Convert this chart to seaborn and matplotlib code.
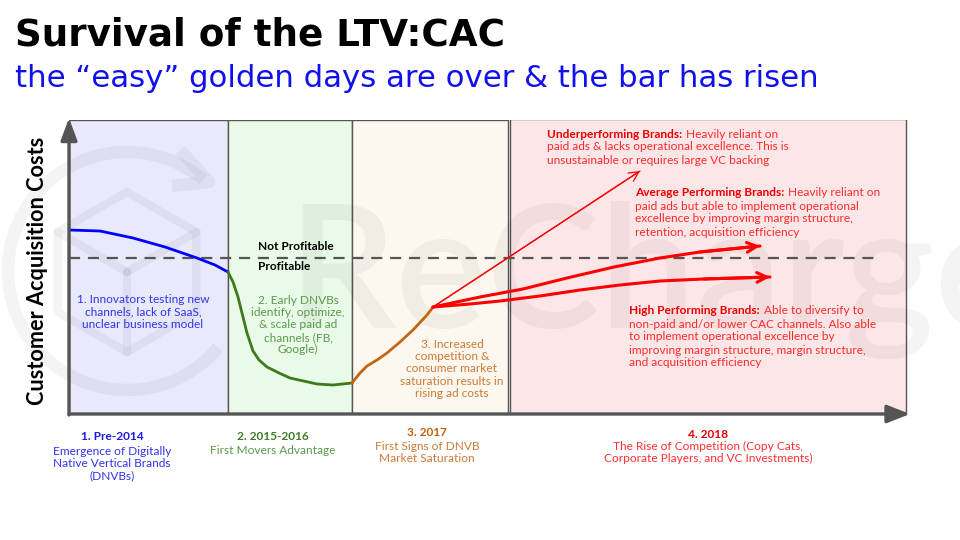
import matplotlib
matplotlib.use("Agg")
import matplotlib.pyplot as plt
import matplotlib.transforms as mtransforms
from matplotlib.patches import Arc, Polygon
import numpy as np
import seaborn as sns

# phases (x = time, y = customer acquisition cost, arbitrary units)
phase_starts = [0, 159, 283, 441]
phase_widths = [159, 124, 156, 396]
phase_heights = [294, 294, 294, 295]
phase_fills = ["#e8eafc", "#e9fbe8", "#fdf8ef", "#fde6e8"]

break_even = 156

blue_x = [0, 31, 64, 96, 128, 146, 159]
blue_y = [184, 183, 176, 167, 156, 149, 142]
green_x = [159, 164, 169, 173, 178, 184, 190, 198, 210, 221, 248, 264, 283]
green_y = [142, 132, 117, 101, 81, 63, 54, 47, 41, 36, 30, 29, 31]
orange_x = [283, 291, 298, 308, 318, 331, 344, 358, 364]
orange_y = [31, 41, 48, 54, 61, 72, 84, 99, 107]
under_x = [364, 571]
under_y = [107, 243]
avg_x = [364, 411, 454, 498, 545, 591, 631, 691]
avg_y = [107, 117, 125, 136, 147, 156, 162, 168]
high_x = [364, 401, 431, 471, 511, 551, 591, 635, 701]
high_y = [107, 110, 113, 118, 124, 129, 133, 135, 137]

phase_notes = [
    "1. Innovators testing new\nchannels, lack of SaaS,\nunclear business model",
    "2. Early DNVBs\nidentify, optimize,\n& scale paid ad\nchannels (FB,\nGoogle)",
    "3. Increased\ncompetition &\nconsumer market\nsaturation results in\nrising ad costs",
]
phase_titles = ["1. Pre-2014", "2. 2015-2016", "3. 2017", "4. 2018"]
phase_subs = [
    "Emergence of Digitally\nNative Vertical Brands\n(DNVBs)",
    "First Movers Advantage",
    "First Signs of DNVB\nMarket Saturation",
    "The Rise of Competition (Copy Cats,\nCorporate Players, and VC Investments)",
]

sns.set_theme(style="white")
plt.rcParams["font.family"] = ["Lato", "DejaVu Sans"]

BLUE, GREEN, ORANGE, RED = "#0000ff", "#3d7a1c", "#c2650f", "#ff0000"
GREY = "#555555"
FS = 8.6

fig = plt.figure(figsize=(9.6, 5.4), dpi=100)
ax = fig.add_axes([69 / 960, 126 / 540, 841 / 960, 294 / 540])
ax.set_xlim(0, 841)
ax.set_ylim(0, 294)
ax.set_xticks([])
ax.set_yticks([])
for s in ax.spines.values():
    s.set_visible(False)
ax.patch.set_alpha(0)

# phase panels
ax.bar(phase_starts, phase_heights, width=phase_widths, align="edge",
       color=phase_fills, edgecolor=GREY, linewidth=1, zorder=1)

# watermark (pixel coords)
px = mtransforms.Affine2D().scale(1, -1).translate(0, 540)
wm = dict(color="black", alpha=0.045, transform=px, zorder=2, clip_on=False)
ax.text(287, 328, "ReCharge", fontsize=123, fontweight="semibold", **wm)
ax.add_patch(Arc((127, 271), 238, 238, theta1=40, theta2=310, lw=9, **wm))
ax.plot([180, 209, 172], [150, 182, 186], lw=9, solid_capstyle="butt", **wm)
ang = np.deg2rad([90, 150, 210, 270, 330, 30])
hx = 127 + 80 * np.cos(ang)
hy = 272 - 80 * np.sin(ang)
ax.add_patch(Polygon(np.c_[hx, hy], closed=True, fill=False, lw=6, edgecolor="black",
                     alpha=0.045, transform=px, zorder=2, clip_on=False))
for a in [150, 30, 270]:
    r = np.deg2rad(a)
    ax.plot([127, 127 + 80 * np.cos(r)], [272, 272 - 80 * np.sin(r)], lw=6, **wm)

# break-even line
ax.plot([0, 808], [break_even, break_even], color=GREY, lw=1.6,
        dashes=(5, 3.5), zorder=3)
ax.text(189, 167, "Not Profitable", fontsize=FS, fontweight="bold", color="black",
        va="center", zorder=5)
ax.text(189, 147, "Profitable", fontsize=FS, fontweight="bold", color="black",
        va="center", zorder=5)

# curves
sns.lineplot(x=blue_x, y=blue_y, sort=False, color=BLUE, lw=2, ax=ax, zorder=4)
sns.lineplot(x=green_x, y=green_y, sort=False, color=GREEN, lw=2, ax=ax, zorder=4)
sns.lineplot(x=orange_x, y=orange_y, sort=False, color=ORANGE, lw=2, ax=ax, zorder=4)
for xs, ys, lw in [(under_x, under_y, 0.9), (avg_x, avg_y, 2.2), (high_x, high_y, 2.2)]:
    sns.lineplot(x=xs, y=ys, sort=False, color=RED, lw=lw, ax=ax, zorder=4)
    ax.annotate("", xy=(xs[-1], ys[-1]), xytext=(xs[-2], ys[-2]),
                arrowprops=dict(arrowstyle="->,head_length=0.7,head_width=0.35",
                                color=RED, lw=lw, shrinkA=0, shrinkB=0,
                                mutation_scale=10), zorder=4)

# axis arrows
ax.annotate("", xy=(841, 0), xytext=(0, 0),
            arrowprops=dict(arrowstyle="-|>,head_length=1.4,head_width=0.55",
                            color=GREY, lw=2.4, shrinkA=0, shrinkB=0,
                            mutation_scale=10), annotation_clip=False, zorder=6)
ax.annotate("", xy=(0, 296), xytext=(0, -1),
            arrowprops=dict(arrowstyle="-|>,head_length=1.35,head_width=0.5",
                            color=GREY, lw=2.4, shrinkA=0, shrinkB=0,
                            mutation_scale=10), annotation_clip=False, zorder=6)

# notes inside panels
note_pos = [(74, 102), (229, 89), (383, 45)]
note_cols = ["#3333ee", "#5b9a4c", "#cc7a35"]
for (nx, ny), txt, c in zip(note_pos, phase_notes, note_cols):
    ax.text(nx, ny, txt, ha="center", va="center", fontsize=FS, color=c,
            linespacing=1.15, zorder=5)


def fx(x):
    return x / 960


def fy(y):
    return 1 - y / 540


renderer = fig.canvas.get_renderer()


def rich(x, y, bold, first, rest):
    t = fig.text(fx(x), fy(y), bold, fontsize=FS, fontweight="bold", color="#ee0000",
                 va="center", zorder=7)
    w = t.get_window_extent(renderer).width
    fig.text(fx(x + w + 1), fy(y), first, fontsize=FS, color="#ff2b2b", va="center", zorder=7)
    for i, line in enumerate(rest):
        fig.text(fx(x), fy(y + 13 * (i + 1)), line, fontsize=FS, color="#ff2b2b",
                 va="center", zorder=7)


rich(547, 134, "Underperforming Brands:", " Heavily reliant on",
     ["paid ads & lacks operational excellence. This is",
      "unsustainable or requires large VC backing"])
rich(635, 193, "Average Performing Brands:", " Heavily reliant on",
     ["paid ads but able to implement operational",
      "excellence by improving margin structure,",
      "retention, acquisition efficiency"])
rich(629, 311, "High Performing Brands:", " Able to diversify to",
     ["non-paid and/or lower CAC channels. Also able",
      "to implement operational excellence by",
      "improving margin structure, margin structure,",
      "and acquisition efficiency"])

# phase labels under the axis
lab_x = [112, 273, 427, 708]
lab_y = [437, 437, 433, 434]
sub_y = [463.5, 450, 452.5, 452.5]
lab_cols = ["#1a1aee", "#3e7a26", "#c0600a", "#e00000"]
sub_cols = ["#3333ee", "#5b9a4c", "#cc7a35", "#ff3030"]
for x, y, sy, t, s, c1, c2 in zip(lab_x, lab_y, sub_y, phase_titles, phase_subs,
                                   lab_cols, sub_cols):
    fig.text(fx(x), fy(y), t, ha="center", va="center", fontsize=FS,
             fontweight="bold", color=c1)
    fig.text(fx(x), fy(sy), s, ha="center", va="center", fontsize=FS,
             color=c2, linespacing=1.1)

# titles
title = fig.text(fx(15), fy(46), "Survival of the LTV:CAC", fontsize=28,
                 fontweight="bold", color="black", va="baseline", family="DejaVu Sans")
sub = fig.text(fx(15), fy(87), "the \u201ceasy\u201d golden days are over & the bar has risen",
               fontsize=20, color="#1010ee", va="baseline", family="DejaVu Sans")
ylab = fig.text(fx(38), fy(271), "Customer Acquisition Costs", fontsize=15,
                fontweight="bold", color="black", rotation=90, ha="center", va="center")

for t, target, dim in [(title, 490, "width"), (sub, 802, "width"), (ylab, 268, "height")]:
    ext = t.get_window_extent(renderer)
    cur = ext.width if dim == "width" else ext.height
    t.set_fontsize(t.get_fontsize() * target / cur)

fig.savefig("out.png", dpi=100)
